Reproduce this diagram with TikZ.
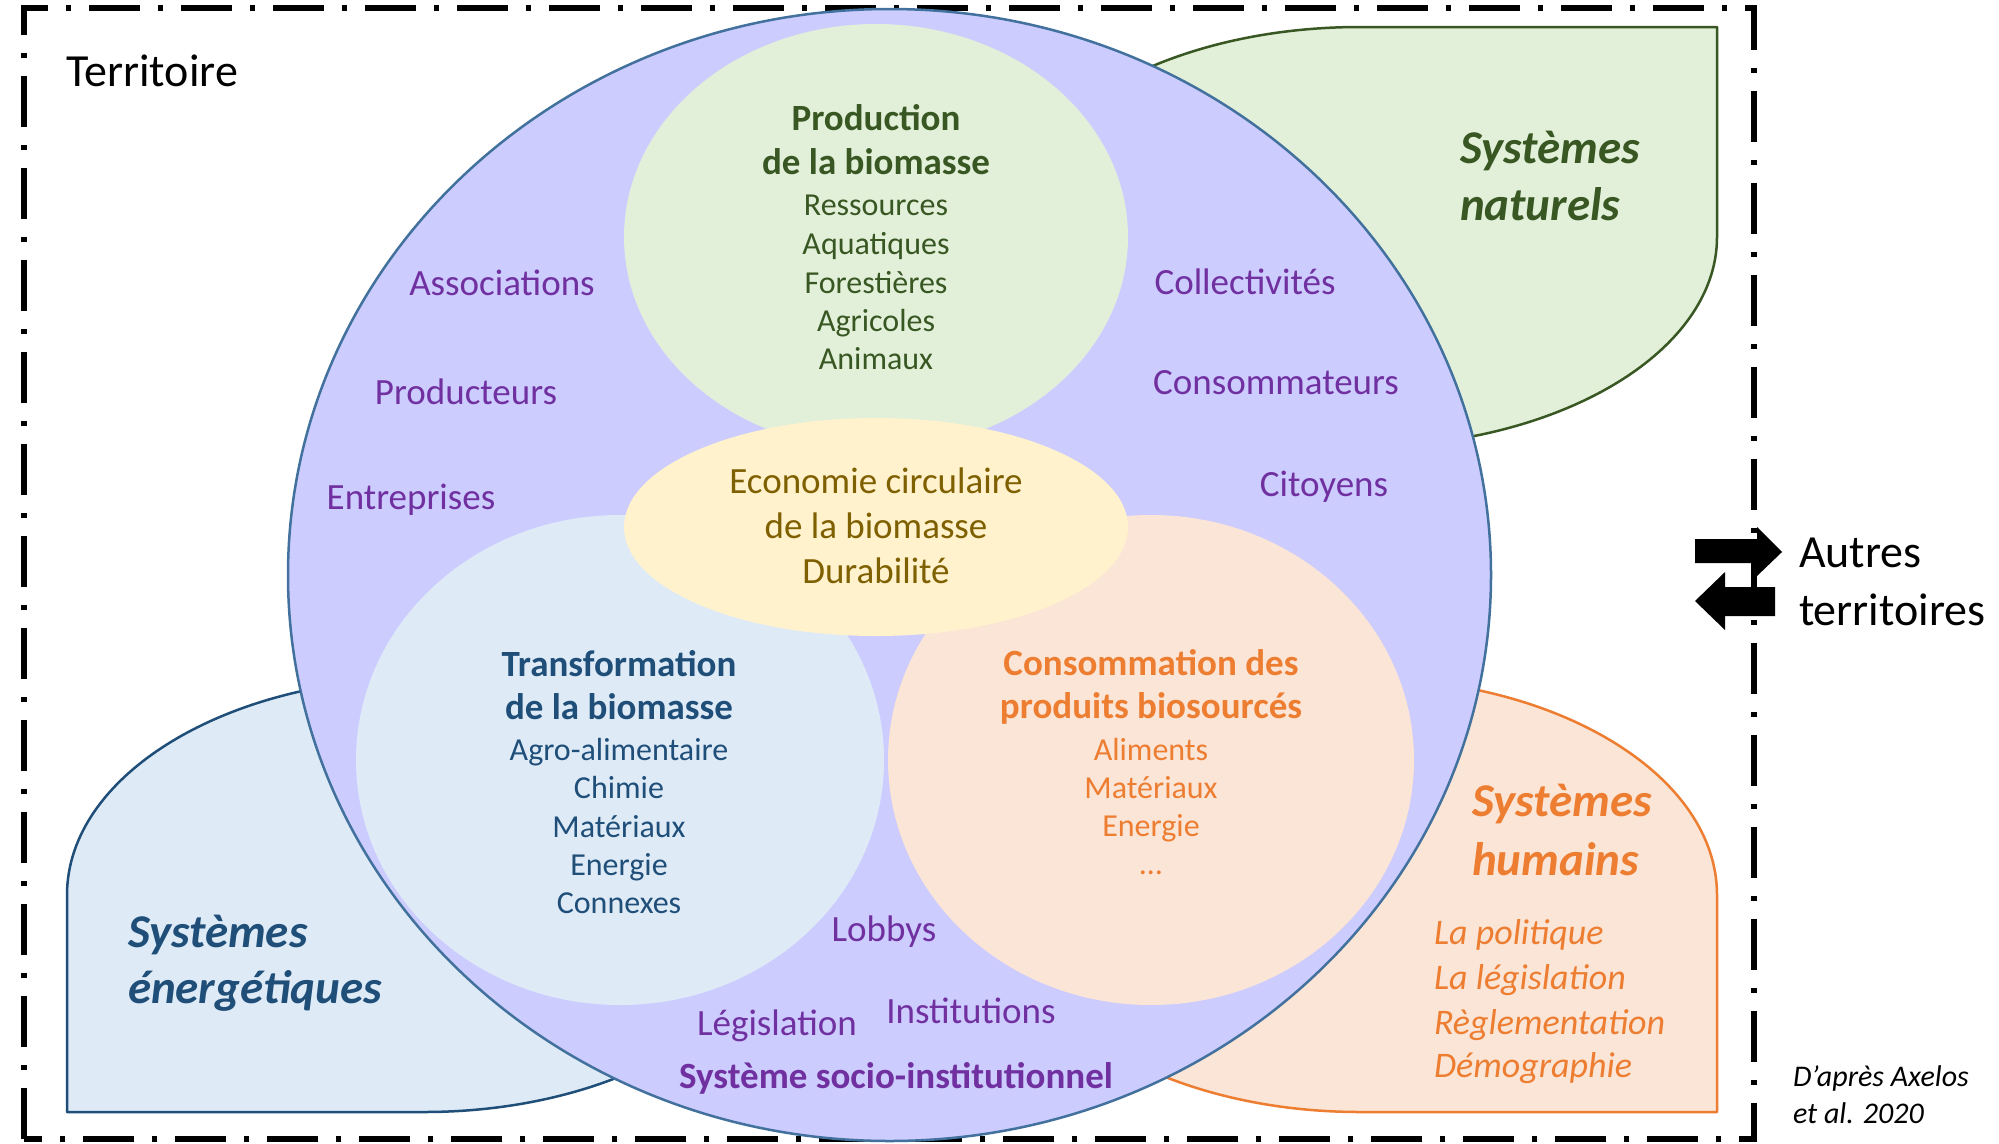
\documentclass[tikz,border=0pt]{standalone}
\usepackage{fontspec}
\setmainfont{Carlito}
\definecolor{purp}{HTML}{7030A0}
\definecolor{dgreen}{HTML}{385723}
\definecolor{olive}{HTML}{7F6000}
\definecolor{dblue}{HTML}{1F4E79}
\definecolor{orng}{HTML}{ED7D31}
\definecolor{lav}{HTML}{CCCCFF}
\definecolor{circedge}{HTML}{41719C}
\definecolor{lgreen}{HTML}{E2F0D9}
\definecolor{lblue}{HTML}{DEEBF7}
\definecolor{lorange}{HTML}{FBE5D6}
\definecolor{lyellow}{HTML}{FFF2CC}
\begin{document}
\begin{tikzpicture}[x=1pt,y=-1pt,
  txt/.style={inner sep=0pt, outer sep=0pt, anchor=base},
  ltxt/.style={inner sep=0pt, outer sep=0pt, anchor=base west},
  big/.style={font=\fontsize{46}{52}\selectfont},
  head/.style={font=\fontsize{37}{44}\selectfont\bfseries},
  item/.style={font=\fontsize{32}{38}\selectfont},
  actor/.style={font=\fontsize{37}{44}\selectfont, text=purp},
  sys/.style={font=\fontsize{47}{54}\selectfont\bfseries\itshape},
  hitem/.style={font=\fontsize{36}{42}\selectfont\itshape, text=orng},
  note/.style={font=\fontsize{30}{36}\selectfont\itshape},
  shapeline/.style={line width=2.5pt, line join=round}
]
\useasboundingbox (0,0) rectangle (1999,1143);
\fill[white] (0,0) rectangle (1999,1143);

% frame
\draw[line width=5.5pt, dash pattern=on 51pt off 18pt on 5pt off 18pt] (24,1139) -- (24,8) -- (1754,8) -- (1754,1139) -- cycle;

% outer systems
\draw[shapeline, draw=dgreen, fill=lgreen] (1717,27) -- (1717,237)
  arc[start angle=0, end angle=-90, x radius=357pt, y radius=210pt] -- (1003,447) -- (1003,237)
  arc[start angle=180, end angle=90, x radius=357pt, y radius=210pt] -- cycle;
\draw[shapeline, draw=dblue, fill=lblue] (781,678) -- (424,678)
  arc[start angle=90, end angle=180, x radius=357pt, y radius=217pt] -- (67,1112) -- (424,1112)
  arc[start angle=270, end angle=360, x radius=357pt, y radius=217pt] -- cycle;
\draw[shapeline, draw=orng, fill=lorange] (1003,678) -- (1360,678)
  arc[start angle=90, end angle=0, x radius=357pt, y radius=217pt] -- (1717,1112) -- (1360,1112)
  arc[start angle=270, end angle=180, x radius=357pt, y radius=217pt] -- cycle;

% big circle
\draw[line width=2.5pt, draw=circedge, fill=lav] (889.5,575) ellipse [x radius=601.5pt, y radius=566pt];

% inner ellipses
\fill[lgreen] (876,237) ellipse [x radius=252pt, y radius=213pt];
\fill[lblue] (620,760) ellipse [x radius=264pt, y radius=245pt];
\fill[lorange] (1151,760) ellipse [x radius=263pt, y radius=245pt];
\fill[lyellow] (876,527) ellipse [x radius=252pt, y radius=109pt];

% arrows
\fill[black] (1695,539) -- (1757,539) -- (1757,527) -- (1782,552) -- (1757,576) -- (1757,563) -- (1695,563) -- cycle;
\fill[black] (1775,587) -- (1725,587) -- (1725,572) -- (1695,601) -- (1725,630) -- (1725,616) -- (1775,616) -- cycle;

% texts
\node[ltxt, big] (terr) at (66,86) {Territoire};
\node[ltxt, big] (autres1) at (1799,567) {Autres};
\node[ltxt, big] (autres2) at (1799,625) {territoires};
\node[ltxt, note] (src1) at (1793,1086) {D’après Axelos};
\node[ltxt, note] (src2) at (1793,1123) {et al. 2020};

\node[txt, head, text=dgreen] (p1) at (876,130) {Production};
\node[txt, head, text=dgreen] (p2) at (876,174) {de la biomasse};
\node[txt, item, text=dgreen] (p3) at (876,215) {Ressources};
\node[txt, item, text=dgreen] (p4) at (876,254) {Aquatiques};
\node[txt, item, text=dgreen] (p5) at (876,293) {Forestières};
\node[txt, item, text=dgreen] (p6) at (876,331) {Agricoles};
\node[txt, item, text=dgreen] (p7) at (876,369) {Animaux};

\node[txt, font=\fontsize{37}{44}\selectfont, text=olive] (e1) at (876,493) {Economie circulaire};
\node[txt, font=\fontsize{37}{44}\selectfont, text=olive] (e2) at (876,538) {de la biomasse};
\node[txt, font=\fontsize{37}{44}\selectfont, text=olive] (e3) at (876,583) {Durabilité};

\node[txt, head, text=dblue] (t1) at (619,676) {Transformation};
\node[txt, head, text=dblue] (t2) at (619,719) {de la biomasse};
\node[txt, item, text=dblue] (t3) at (619,760) {Agro-alimentaire};
\node[txt, item, text=dblue] (t4) at (619,798) {Chimie};
\node[txt, item, text=dblue] (t5) at (619,837) {Matériaux};
\node[txt, item, text=dblue] (t6) at (619,875) {Energie};
\node[txt, item, text=dblue] (t7) at (619,913) {Connexes};

\node[txt, head, text=orng] (c1) at (1151,675) {Consommation des};
\node[txt, head, text=orng] (c2) at (1151,718) {produits biosourcés};
\node[txt, item, text=orng] (c3) at (1151,760) {Aliments};
\node[txt, item, text=orng] (c4) at (1151,798) {Matériaux};
\node[txt, item, text=orng] (c5) at (1151,836) {Energie};
\node[txt, item, text=orng] (c6) at (1151,874) {…};

\node[txt, actor] (a1) at (502,295) {Associations};
\node[txt, actor] (a2) at (466,404) {Producteurs};
\node[txt, actor] (a3) at (411,509) {Entreprises};
\node[txt, actor] (a4) at (1245,294) {Collectivités};
\node[txt, actor] (a5) at (1276,394) {Consommateurs};
\node[txt, actor] (a6) at (1324,496) {Citoyens};
\node[txt, actor] (a7) at (884,941) {Lobbys};
\node[txt, actor] (a8) at (777,1035) {Législation};
\node[txt, actor] (a9) at (971,1023) {Institutions};
\node[txt, actor, font=\fontsize{37}{44}\selectfont\bfseries] (a10) at (896,1088) {Système socio-institutionnel};

\node[ltxt, sys, text=dgreen] (n1) at (1460,163) {Systèmes};
\node[ltxt, sys, text=dgreen] (n2) at (1460,220) {naturels};
\node[ltxt, sys, text=orng] (h1) at (1472,816) {Systèmes};
\node[ltxt, sys, text=orng] (h2) at (1472,875) {humains};
\node[ltxt, sys, text=dblue] (g1) at (128,947) {Systèmes};
\node[ltxt, sys, text=dblue] (g2) at (128,1003) {énergétiques};

\node[ltxt, hitem] (l1) at (1434,944) {La politique};
\node[ltxt, hitem] (l2) at (1434,989) {La législation};
\node[ltxt, hitem] (l3) at (1434,1034) {Règlementation};
\node[ltxt, hitem] (l4) at (1434,1077) {Démographie};
\end{tikzpicture}
\end{document}
